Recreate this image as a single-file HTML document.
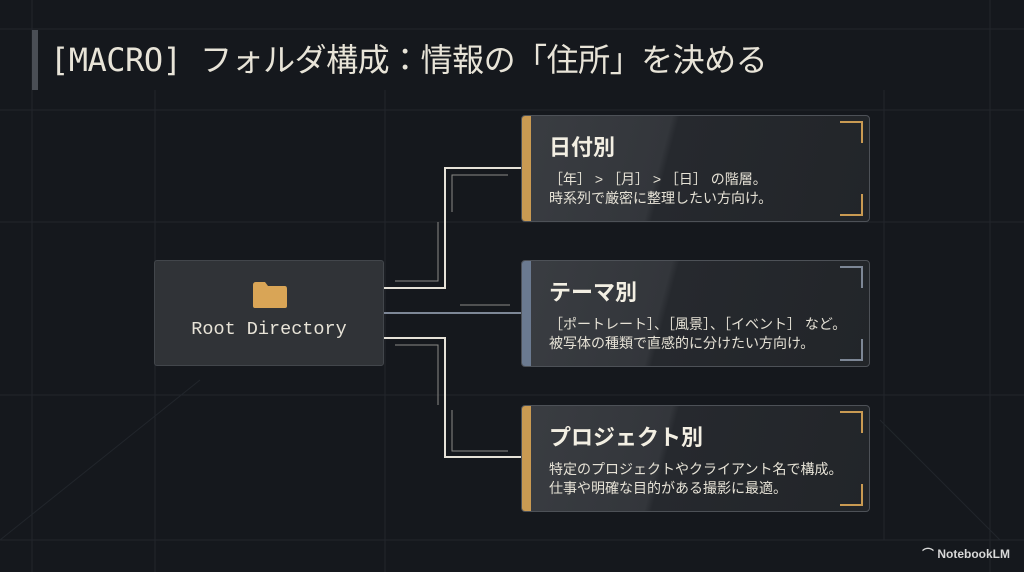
<!DOCTYPE html>
<html><head><meta charset="utf-8"><style>
*{margin:0;padding:0;box-sizing:border-box}
body{width:1024px;height:572px;background:#15181d;position:relative;overflow:hidden;font-family:"Liberation Sans","Noto Sans CJK JP",sans-serif;color:#ece8dc}
.grid{position:absolute;inset:0}
.title{position:absolute;left:50px;top:37px;font-size:32px;line-height:46px;color:#e8e4d8;white-space:nowrap;font-family:"DejaVu Sans Mono","Noto Sans CJK JP",monospace;letter-spacing:-0.5px}
.tbar{position:absolute;left:32px;top:30px;width:6px;height:60px;background:#4a4e55}
.root{position:absolute;left:154px;top:260px;width:230px;height:106px;background:#303337;border:1px solid #42464b;border-radius:3px}
.root .t{position:absolute;left:0;right:0;top:58px;text-align:center;font-family:"Liberation Mono","DejaVu Sans Mono",monospace;font-size:18.5px;color:#e8e4d8}
.card{position:absolute;left:521px;width:349px;height:107px;border-radius:4px;background:linear-gradient(105deg,#3a3d42 0%,#33363b 40%,#26292e 42%,#222529 100%);border:1px solid #4d5157;overflow:hidden}
.card .bar{position:absolute;left:0;top:0;bottom:0;width:9px}
.card h2{position:absolute;left:27px;top:14px;font-size:22px;font-weight:bold;color:#f3efe3}
.card p{position:absolute;left:27px;top:54px;font-size:14px;line-height:19px;color:#e6e2d6;white-space:nowrap}
.br{position:absolute;right:6px;width:23px;height:22px;border-right:2px solid;}
.br.t{top:5px;border-top:2px solid}
.br.b{bottom:5px;border-bottom:2px solid}
.nl{position:absolute;right:14px;bottom:10px;font-size:12px;color:#d8d8d8;font-weight:bold}
</style></head><body>
<svg class="grid" width="1024" height="572">
<g stroke="#22262c" stroke-width="1" fill="none">
<line x1="0" y1="29" x2="1024" y2="29"/><line x1="0" y1="110" x2="1024" y2="110"/>
<line x1="0" y1="222" x2="1024" y2="222"/><line x1="0" y1="395" x2="1024" y2="395"/>
<line x1="0" y1="540" x2="1024" y2="540"/>
<line x1="32" y1="0" x2="32" y2="572"/><line x1="155" y1="90" x2="155" y2="572"/>
<line x1="385" y1="90" x2="385" y2="572"/><line x1="990" y1="0" x2="990" y2="572"/>
<line x1="884" y1="90" x2="884" y2="540"/>
<line x1="0" y1="540" x2="200" y2="380"/><line x1="880" y1="420" x2="1000" y2="540"/>
</g>
<g stroke="#e6e2d8" stroke-width="2" fill="none">
<polyline points="384,288 445,288 445,168 521,168"/>
<polyline points="384,338 445,338 445,457 521,457"/>
</g>
<line x1="384" y1="313" x2="521" y2="313" stroke="#7d8796" stroke-width="2"/>
<g stroke="#8a8a86" stroke-width="1" fill="none">
<polyline points="395,281 438,281 438,222"/><polyline points="452,212 452,175 508,175"/>
<polyline points="395,345 438,345 438,405"/><polyline points="452,410 452,451 508,451"/>
<line x1="460" y1="305" x2="510" y2="305"/>
</g>
</svg>
<div class="tbar"></div>
<div class="title">[MACRO] フォルダ構成：情報の「住所」を決める</div>
<div class="root">
<svg style="position:absolute;left:97px;top:20px" width="36" height="28"><path d="M1 4 Q1 1 4 1 L13 1 L16 5 L33 5 Q35 5 35 8 L35 25 Q35 27 33 27 L3 27 Q1 27 1 25 Z" fill="#d9a556"/></svg>
<div class="t">Root Directory</div></div>
<div class="card" style="top:115px"><div class="bar" style="background:#c99a52"></div><h2>日付別</h2><p>［年］ &gt; ［月］ &gt; ［日］ の階層。<br>時系列で厳密に整理したい方向け。</p><div class="br t" style="color:#c99a52"></div><div class="br b" style="color:#c99a52"></div></div>
<div class="card" style="top:260px"><div class="bar" style="background:#6b7a90"></div><h2>テーマ別</h2><p>［ポートレート］、［風景］、［イベント］ など。<br>被写体の種類で直感的に分けたい方向け。</p><div class="br t" style="color:#7d8796"></div><div class="br b" style="color:#7d8796"></div></div>
<div class="card" style="top:405px"><div class="bar" style="background:#c99a52"></div><h2>プロジェクト別</h2><p>特定のプロジェクトやクライアント名で構成。<br>仕事や明確な目的がある撮影に最適。</p><div class="br t" style="color:#c99a52"></div><div class="br b" style="color:#c99a52"></div></div>
<div class="nl">⌒ NotebookLM</div>
</body></html>
